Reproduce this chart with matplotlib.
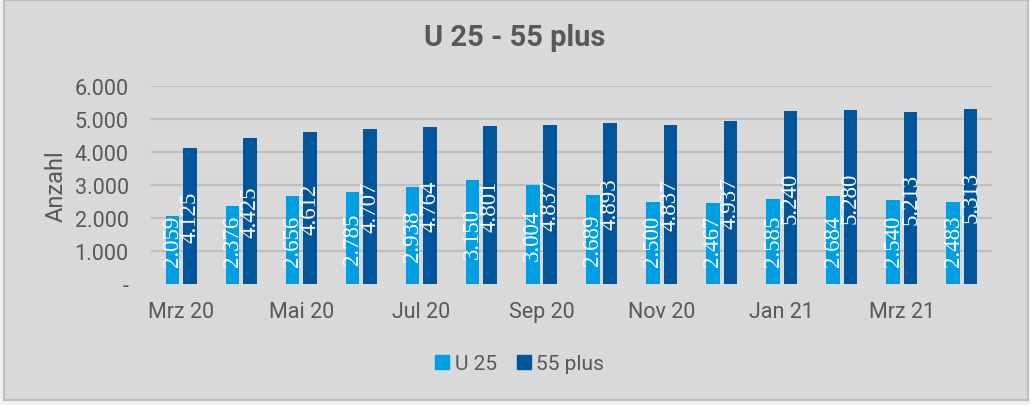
import matplotlib
matplotlib.use("Agg")
import matplotlib.pyplot as plt
import numpy as np
from matplotlib.patches import Rectangle
from matplotlib.lines import Line2D

months = ["Mrz 20", "Apr 20", "Mai 20", "Jun 20", "Jul 20", "Aug 20", "Sep 20",
          "Okt 20", "Nov 20", "Dez 20", "Jan 21", "Feb 21", "Mrz 21", "Apr 21"]
u25 = [2059, 2376, 2656, 2785, 2938, 3150, 3004, 2689, 2500, 2467, 2585, 2684, 2540, 2483]
plus55 = [4125, 4425, 4612, 4707, 4764, 4801, 4837, 4893, 4837, 4937, 5240, 5280, 5213, 5313]
yticks = [0, 1000, 2000, 3000, 4000, 5000, 6000]
ytick_labels = ["-", "1.000", "2.000", "3.000", "4.000", "5.000", "6.000"]
title = "U 25 - 55 plus"
series_names = ["U 25", "55 plus"]

C_LIGHT = "#009fe3"
C_DARK = "#00559b"
TXT = "#595959"
BG = "#d9d9d9"
GRID = "#bfbfbf"

plt.rcParams["font.family"] = ["Roboto", "DejaVu Sans"]

fig = plt.figure(figsize=(10.30, 4.06), dpi=100, facecolor="#f2f2f2")
W, H = 1030, 406
fig.patches.append(Rectangle((4 / W, 1 - 401 / H), 1024 / W, 400 / H,
                             transform=fig.transFigure, facecolor=BG,
                             edgecolor=GRID, linewidth=1.5, zorder=-5))

ax = fig.add_axes([151 / W, 1 - 285 / H, (992 - 151) / W, (285 - 87.3) / H])
ax.set_facecolor("none")
x = np.arange(len(months))
off = 0.145
bw = 0.225
ax.bar(x - off, u25, width=bw, color=C_LIGHT, zorder=3)
ax.bar(x + off, plus55, width=bw, color=C_DARK, zorder=3)

for xi, v in zip(x, u25):
    ax.text(xi - off, max(v / 2, 1330), f"{v:,}".replace(",", "."), rotation=90,
            ha="center", va="center", color="white", fontsize=16.5,
            family=["Liberation Serif", "DejaVu Serif"], zorder=4)
for xi, v in zip(x, plus55):
    ax.text(xi + off, v / 2, f"{v:,}".replace(",", "."), rotation=90,
            ha="center", va="center", color="white", fontsize=16.5,
            family=["Liberation Serif", "DejaVu Serif"], zorder=4)

ax.set_xlim(-0.5, len(months) - 0.5)
ax.set_ylim(0, 6000)
ax.set_yticks(yticks)
ax.set_yticklabels(ytick_labels)
ax.set_xticks(x[::2])
ax.set_xticklabels(months[::2])
for yv in yticks[1:]:
    ax.axhline(yv, color=GRID, linewidth=1.5, zorder=1)
for s in ax.spines.values():
    s.set_visible(False)
ax.tick_params(axis="y", length=0, pad=16, labelsize=15.5, labelcolor=TXT)
ax.tick_params(axis="x", length=0, pad=12, labelsize=15.5, labelcolor=TXT)
ax.set_ylabel("Anzahl", fontsize=17, color=TXT, labelpad=5)

fig.text(515 / W, 1 - 38 / H, title, ha="center", va="center", fontsize=21,
         fontweight="bold", color=TXT)

handles = [Line2D([], [], marker="s", linestyle="none", markersize=9.5,
                  markerfacecolor=C_LIGHT, markeredgecolor=C_LIGHT),
           Line2D([], [], marker="s", linestyle="none", markersize=9.5,
                  markerfacecolor=C_DARK, markeredgecolor=C_DARK)]
leg = fig.legend(handles, series_names, loc="center", ncol=2,
                 bbox_to_anchor=(520 / W, 1 - 365 / H), frameon=False,
                 fontsize=15, handlelength=0.6, handletextpad=0.3,
                 columnspacing=1.0, labelcolor=TXT)

fig.savefig("out.png", dpi=100, facecolor=fig.get_facecolor())
